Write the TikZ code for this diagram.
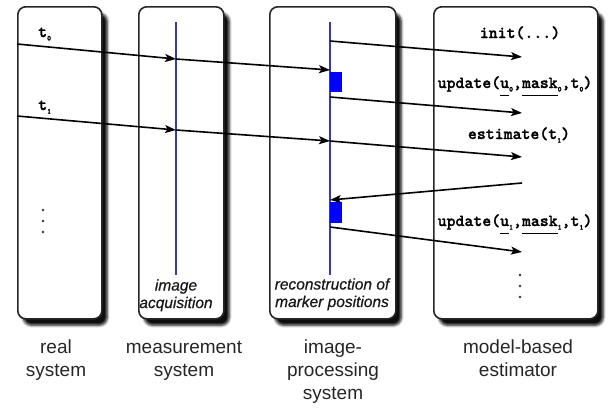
\documentclass[tikz,border=0pt]{standalone}
\usepackage{fontspec}
\setmainfont{Liberation Sans}
\newfontfamily\codefont{lmmonolt10-bold.otf}[FakeBold=1.2]
\newfontfamily\notefont{Liberation Sans}[FakeBold=0.6]
\usetikzlibrary{arrows.meta,shadows.blur}

\definecolor{lineblue}{RGB}{55,55,185}

% underlined symbol with a fixed rule depth, and a small lowered index
\newcommand\ulsym[1]{\setbox0\hbox{#1}\rlap{\rule[-8pt]{\wd0}{1.3pt}}\box0}
\newcommand\idx[1]{\raisebox{-3.5pt}{\fontsize{7.5}{7.5}\selectfont #1}}

\tikzset{
  stage/.style={draw=black!85, line width=1.6pt, fill=white, rounded corners=8pt,
    anchor=north west, inner sep=0pt,
    blur shadow={shadow xshift=5.5pt, shadow yshift=-6.5pt, shadow blur steps=5,
      shadow blur radius=2.5pt, shadow opacity=95, shadow blur extra rounding=1pt}},
  timeline/.style={draw=lineblue, line width=1.8pt},
  marker/.style={fill=blue, draw=none},
  msg/.style={line width=1.6pt, -{Stealth[length=11pt,width=8pt,inset=2.5pt]}},
  call/.style={font=\fontsize{17}{17}\selectfont\codefont, inner sep=0pt, anchor=base},
  caption/.style={font=\fontsize{19}{23}\selectfont, text=black!85, align=center, inner sep=0pt, anchor=base},
  inlabel/.style={font=\fontsize{15.5}{17.5}\selectfont\notefont\itshape, text=black!90, align=center, inner sep=0pt, anchor=base},
  dot/.style={fill=black!80, circle, inner sep=0pt, minimum size=2.8pt},
}

\begin{document}
\begin{tikzpicture}[x=1pt, y=-1pt]
\useasboundingbox (0,0) rectangle (612,407);

% the four stages
\node[stage, minimum width=84pt,  minimum height=312pt] (real)  at (17,6)  {};
\node[stage, minimum width=85pt,  minimum height=312pt] (meas)  at (138,6) {};
\node[stage, minimum width=126pt, minimum height=312pt] (proc)  at (269,6) {};
\node[stage, minimum width=164pt, minimum height=312pt] (est)   at (433,6) {};

% time lines of acquisition and processing
\coordinate (mtop) at (176,22);  \coordinate (mbot) at (176,275);
\coordinate (ptop) at (330,22);  \coordinate (pbot) at (330,275);
\draw[timeline] (mtop) -- (mbot);
\draw[timeline] (ptop) -- (pbot);

% processing intervals
\path[marker] (330,72) rectangle (342,92);
\path[marker] (330,202) rectangle (342,223);

% sampling instants
\coordinate (t0a) at (17,44);   \coordinate (t0b) at (176,59);  \coordinate (t0c) at (330,70);
\coordinate (t1a) at (17,116);  \coordinate (t1b) at (176,130); \coordinate (t1c) at (330,141);
\draw[msg] (t0a) -- (t0b);
\draw[msg] (t0b) -- (t0c);
\draw[msg] (t1a) -- (t1b);
\draw[msg] (t1b) -- (t1c);

% messages to and from the estimator
\coordinate (s1) at (330,41);   \coordinate (e1) at (522,57);
\coordinate (s2) at (330,97);   \coordinate (e2) at (522,113);
\coordinate (s3) at (330,141);  \coordinate (e3) at (522,157);
\coordinate (s4) at (522,183);  \coordinate (e4) at (330,200);
\coordinate (s5) at (330,227);  \coordinate (e5) at (522,252);
\draw[msg] (s1) -- (e1);
\draw[msg] (s2) -- (e2);
\draw[msg] (s3) -- (e3);
\draw[msg] (s4) -- (e4);
\draw[msg] (s5) -- (e5);

% time labels
\node[call, anchor=base west] (lt0) at (38,37) {t\idx{0}};
\node[call, anchor=base west] (lt1) at (38,110) {t\idx{1}};

% estimator calls
\node[call] (cinit) at (520,38) {init(...)};
\node[call] (cupd0) at (515,88) {update(\ulsym{u}\idx{0},\ulsym{mask}\idx{0},t\idx{0})};
\node[call] (cestm) at (519,139) {estimate(t\idx{1})};
\node[call] (cupd1) at (515,226) {update(\ulsym{u}\idx{1},\ulsym{mask}\idx{1},t\idx{1})};

% continuation dots
\foreach \y in {210,221,232} \node[dot] at (43,\y) {};
\foreach \y in {275,286,297} \node[dot] at (520,\y) {};

% labels inside the stages (base anchor sits on the last line)
\node[inlabel] (lacq) at (176,308) {image\\acquisition};
\node[inlabel] (lrec) at (332,307) {reconstruction of\\marker positions};

% captions below the stages
\node[caption] (creal) at (56,376)  {real\\system};
\node[caption] (cmeas) at (184,376) {measurement\\system};
\node[caption] (cproc) at (333,399) {image-\\processing\\system};
\node[caption] (cestr) at (518,376) {model-based\\estimator};
\end{tikzpicture}
\end{document}
